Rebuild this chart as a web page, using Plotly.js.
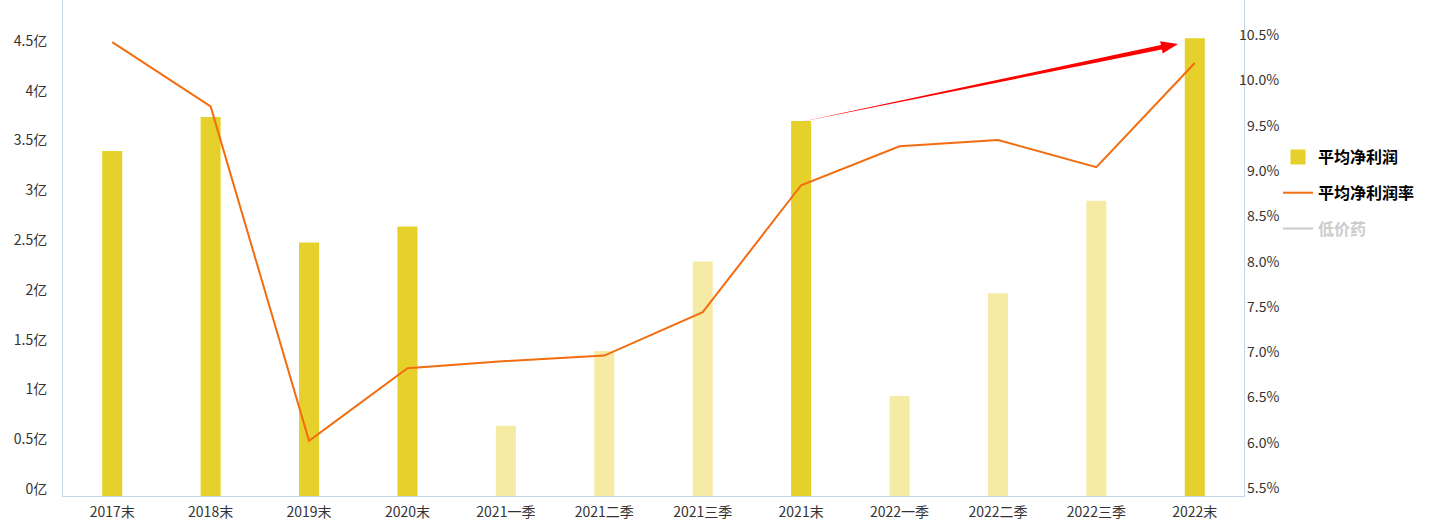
<!DOCTYPE html>
<html>
<head>
<meta charset="utf-8">
<script src="https://cdn.plot.ly/plotly-3.0.1.min.js"></script>
<style>html,body{margin:0;padding:0;background:#fff;}#chart{width:1430px;height:526px;}</style>
</head>
<body>
<div id="chart"></div>
<script>
const categories = ['2017末','2018末','2019末','2020末','2021一季','2021二季','2021三季','2021末','2022一季','2022二季','2022三季','2022末'];
const avgProfit = [3.45, 3.79, 2.53, 2.69, 0.69, 1.44, 2.34, 3.75, 0.99, 2.02, 2.95, 4.58]; // 亿
const avgMargin = [10.51, 9.80, 6.11, 6.91, 6.99, 7.05, 7.53, 8.93, 9.36, 9.43, 9.13, 10.28]; // %
const lowPriceDrug = [null, null, null, null, null, null, null, null, null, null, null, null]; // hidden series
const isYearEnd = [true, true, true, true, false, false, false, true, false, false, false, true];
const leftTickVals = [0, 0.5, 1, 1.5, 2, 2.5, 3, 3.5, 4, 4.5];
const leftTickText = ['0亿','0.5亿','1亿','1.5亿','2亿','2.5亿','3亿','3.5亿','4亿','4.5亿'];
const rightTickVals = [5.5, 6.0, 6.5, 7.0, 7.5, 8.0, 8.5, 9.0, 9.5, 10.0, 10.5];
const rightTickText = ['5.5%','6.0%','6.5%','7.0%','7.5%','8.0%','8.5%','9.0%','9.5%','10.0%','10.5%'];

const W = 1430, H = 526;
const M = {l: 63, r: 186, t: 0, b: 30};
const PW = W - M.l - M.r, PH = H - M.t - M.b;
const px = x => (x - M.l) / PW;
const py = y => (H - M.b - y) / PH;

const DARK = '#E6D02C', LIGHT = '#F5EBA5', ORANGE = '#F26D0F';
const FONT = '"Noto Sans CJK SC", "Microsoft YaHei", sans-serif';
const TICKFONT = {family: FONT, size: 14, color: '#333'};

const barColors = isYearEnd.map(v => v ? DARK : LIGHT);
const traces = [
  {
    type: 'bar', name: '平均净利润', x: categories, y: avgProfit,
    marker: {color: barColors, line: {color: barColors, width: 3}},
    width: 0.173, yaxis: 'y', legendgroup: 'a'
  },
  {
    type: 'scatter', mode: 'lines', name: '平均净利润率', x: categories, y: avgMargin,
    line: {color: ORANGE, width: 2}, yaxis: 'y2', legendgroup: 'b'
  },
  {
    type: 'scatter', mode: 'lines', name: '<span style="color:#999">低价药</span>', x: categories, y: lowPriceDrug,
    line: {color: '#999', width: 2}, yaxis: 'y2', visible: 'legendonly', legendgroup: 'c'
  }
];

// tapered arrow (pixel geometry converted to paper coords)
const arrowPts = [[800,122],[1160.9,45.0],[1160.2,41.3],[1178,44],[1162.6,53.5],[1161.9,49.6]];
const arrowPath = 'M ' + arrowPts.map(p => px(p[0]).toFixed(5) + ',' + py(p[1]).toFixed(5)).join(' L ') + ' Z';

const annotations = rightTickVals.map((v, i) => ({
  xref: 'paper', yref: 'y2', x: px(1281), y: v, text: rightTickText[i],
  showarrow: false, xanchor: 'right', yanchor: 'middle', yshift: 9,
  font: TICKFONT
}));

const layout = {
  width: W, height: H,
  margin: M,
  paper_bgcolor: '#fff', plot_bgcolor: '#fff',
  font: {family: FONT, size: 14, color: '#333'},
  showlegend: true,
  bargap: 0.8,
  xaxis: {
    type: 'category', showgrid: false, zeroline: false,
    showline: true, linecolor: '#C9D6EA', linewidth: 1,
    ticks: '', ticklabelstandoff: 3,
    tickfont: TICKFONT
  },
  yaxis: {
    range: [0, 4.98], showgrid: false, zeroline: false,
    showline: true, linecolor: '#C9D6EA', linewidth: 1,
    tickvals: leftTickVals, ticktext: leftTickText, ticks: '',
    ticklabelstandoff: 12, ticklabelshift: -7,
    tickfont: TICKFONT
  },
  yaxis2: {
    overlaying: 'y', side: 'right', range: [5.5, 10.975],
    showgrid: false, zeroline: false,
    showline: true, linecolor: '#C9D6EA', linewidth: 1,
    tickvals: rightTickVals, showticklabels: false, ticks: ''
  },
  legend: {
    x: px(1278), y: py(140), xanchor: 'left', yanchor: 'top',
    font: {family: FONT, size: 16, color: '#000', weight: 'bold'},
    traceorder: 'grouped', tracegroupgap: 12,
    bgcolor: 'rgba(0,0,0,0)'
  },
  shapes: [{
    type: 'path', xref: 'paper', yref: 'paper', path: arrowPath,
    fillcolor: '#FF0000', line: {width: 0}
  }],
  annotations: annotations
};

Plotly.newPlot('chart', traces, layout, {displayModeBar: false, staticPlot: true});
</script>
</body>
</html>
